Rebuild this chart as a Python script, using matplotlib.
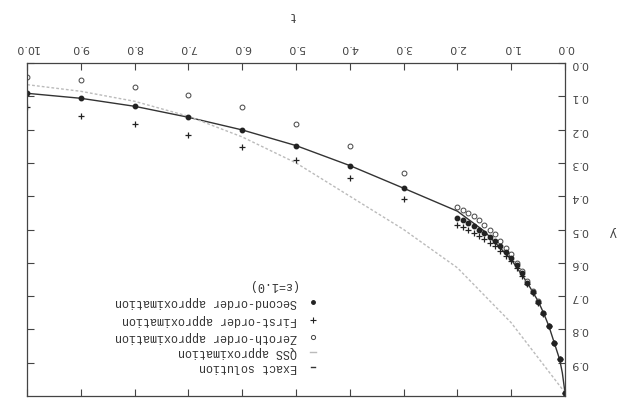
"""Exact solution vs QSS and perturbation approximations, drawn rotated 180 degrees."""
import matplotlib.pyplot as plt

# exact solution y(t)
T_EXACT = [0.0, 0.05, 0.1, 0.2, 0.3, 0.4, 0.5, 0.7, 1.0, 1.5, 2.0,
           3.0, 4.0, 5.0, 6.0, 7.0, 8.0, 9.0, 10.0]
Y_EXACT = [0.99, 0.93, 0.89, 0.84, 0.79, 0.75, 0.715, 0.66, 0.59, 0.505, 0.445,
           0.376, 0.308, 0.248, 0.201, 0.163, 0.130, 0.106, 0.091]

# quasi-steady-state approximation
T_QSS = [0.0, 1.0, 2.0, 3.0, 4.0, 5.0, 6.0, 7.0, 8.0, 9.0, 10.0]
Y_QSS = [0.99, 0.78, 0.615, 0.50, 0.40, 0.30, 0.222, 0.16, 0.115, 0.085, 0.065]

# approximations, dense near t = 0 and sparse further out
T_MARK = [0.0, 0.1, 0.2, 0.3, 0.4, 0.5, 0.6, 0.7, 0.8, 0.9, 1.0,
          1.1, 1.2, 1.3, 1.4, 1.5, 1.6, 1.7, 1.8, 1.9, 2.0,
          3.0, 4.0, 5.0, 6.0, 7.0, 8.0, 9.0, 10.0]
Y_ZEROTH = [0.99, 0.89, 0.84, 0.79, 0.75, 0.715, 0.685, 0.655, 0.625, 0.60, 0.575,
            0.555, 0.535, 0.515, 0.50, 0.485, 0.47, 0.46, 0.45, 0.44, 0.433,
            0.329, 0.248, 0.183, 0.133, 0.097, 0.071, 0.052, 0.041]
Y_FIRST = [0.99, 0.89, 0.84, 0.79, 0.755, 0.72, 0.69, 0.665, 0.64, 0.615, 0.595,
           0.58, 0.565, 0.55, 0.54, 0.53, 0.52, 0.51, 0.50, 0.493, 0.486,
           0.409, 0.344, 0.292, 0.252, 0.215, 0.183, 0.159, 0.133]
Y_SECOND = [0.99, 0.89, 0.84, 0.79, 0.752, 0.717, 0.687, 0.66, 0.632, 0.607, 0.585,
            0.567, 0.55, 0.535, 0.522, 0.51, 0.5, 0.49, 0.48, 0.472, 0.465,
            0.376, 0.308, 0.248, 0.201, 0.163, 0.130, 0.106, 0.091]

X_TICKS = [0, 1, 2, 3, 4, 5, 6, 7, 8, 9, 10]
X_LABELS = ['0.0', '1.0', '2.0', '3.0', '4.0', '5.0', '6.0', '7.0', '8.0', '9.0', '10.0']
Y_TICKS = [0.0, 0.1, 0.2, 0.3, 0.4, 0.5, 0.6, 0.7, 0.8, 0.9]
Y_LABELS = ['0.0', '0.1', '0.2', '0.3', '0.4', '0.5', '0.6', '0.7', '0.8', '0.9']

W, H = 620, 398
fig = plt.figure(figsize=(W / 100, H / 100), dpi=100)
ax = fig.add_axes([27 / W, 1 - 396 / H, (565 - 27) / W, (396 - 63) / H])

ax.plot(T_EXACT, Y_EXACT, color='#333333', lw=1.0)
ax.plot(T_QSS, Y_QSS, color='#bbbbbb', lw=1.0, ls=(0, (2, 1.5)))
ax.plot(T_MARK, Y_ZEROTH, 'o', ms=3.5, mfc='white', mec='#444444', mew=0.7, ls='none')
ax.plot(T_MARK, Y_FIRST, '+', ms=5, mec='#222222', mew=0.9, ls='none')
ax.plot(T_MARK, Y_SECOND, 'o', ms=3.2, mfc='#222222', mec='#222222', ls='none')

# whole plot is upside down: flip both axes, put ticks on the far sides
ax.set_xlim(10.0, 0.0)
ax.set_ylim(1.0, 0.0)
ax.set_xticks(X_TICKS)
ax.set_xticklabels(X_LABELS)
ax.set_yticks(Y_TICKS)
ax.set_yticklabels(Y_LABELS)
ax.tick_params(direction='in', length=5, width=0.8, top=True, bottom=True,
               left=True, right=True, labeltop=True, labelbottom=False,
               labelright=True, labelleft=False, labelsize=8, colors='#444444')
ax.tick_params(axis='x', pad=7)
ax.tick_params(axis='y', pad=4)
for lab in ax.get_xticklabels() + ax.get_yticklabels():
    lab.set_rotation(180)
for s in ax.spines.values():
    s.set_linewidth(0.9)
    s.set_color('#444444')

fig.text(293 / W, 1 - 15 / H, 't', rotation=180, ha='center', va='center',
         fontsize=9, color='#444444')
fig.text(613 / W, 1 - 232 / H, 'y', rotation=180, ha='center', va='center',
         fontsize=9, color='#444444')

# legend block, written out by hand so the text can be turned over
mono = 'Liberation Mono'
tx, mx = 0.502, 0.532
rows = [
    (0.087, 'Exact solution'),
    (0.132, 'QSS approximation'),
    (0.177, 'Zeroth-order approximation'),
    (0.228, 'First-order approximation'),
    (0.282, 'Second-order approximation'),
]
for yy, txt in rows:
    ax.text(tx, yy, txt, transform=ax.transAxes, rotation=180, ha='right',
            va='center', fontsize=8.5, family=mono, color='#333333')
ax.text(0.455, 0.333, '(\u03b5=1.0)', transform=ax.transAxes, rotation=180,
        ha='center', va='center', fontsize=8.5, family=mono, color='#333333')

ax.plot([mx - 0.004, mx + 0.004], [0.087, 0.087], transform=ax.transAxes,
        color='#333333', lw=1.0)
ax.plot([mx - 0.006, mx + 0.006], [0.132, 0.132], transform=ax.transAxes,
        color='#bbbbbb', lw=1.0)
ax.plot([mx], [0.177], 'o', ms=3, mfc='white', mec='#444444', mew=0.7,
        transform=ax.transAxes)
ax.plot([mx], [0.228], '+', ms=4, mec='#222222', mew=0.8, transform=ax.transAxes)
ax.plot([mx], [0.282], 'o', ms=2.5, mfc='#222222', mec='#222222',
        transform=ax.transAxes)

fig.savefig('out.png', dpi=100)
